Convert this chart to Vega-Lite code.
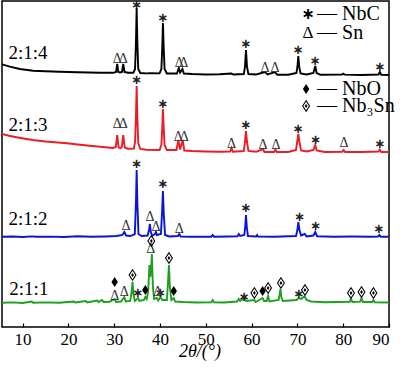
{
"$schema":"https://vega.github.io/schema/vega-lite/v6.json",
"width":387,"height":326,
"autosize":{"type":"none"},
"padding":{"left":2,"top":1,"right":11,"bottom":45},
"config":{"view":{"stroke":"#000","strokeWidth":1.5},"font":"Liberation Serif"},
"datasets":{
"curves":[
{"s":"2:1:4","x":5.5,"y":262.7},{"s":"2:1:4","x":7.2,"y":260.3},{"s":"2:1:4","x":9.4,"y":258},{"s":"2:1:4","x":12.3,"y":256.3},{"s":"2:1:4","x":15,"y":255.7},{"s":"2:1:4","x":18,"y":255.3},{"s":"2:1:4","x":22,"y":254.8},{"s":"2:1:4","x":27,"y":254.3},{"s":"2:1:4","x":29.8,"y":254.2},{"s":"2:1:4","x":30.4,"y":255},{"s":"2:1:4","x":30.66,"y":263},{"s":"2:1:4","x":30.9,"y":255},{"s":"2:1:4","x":31.3,"y":254.5},{"s":"2:1:4","x":31.7,"y":255},{"s":"2:1:4","x":31.97,"y":263},{"s":"2:1:4","x":32.25,"y":255},{"s":"2:1:4","x":33,"y":254.2},{"s":"2:1:4","x":34.2,"y":254.3},{"s":"2:1:4","x":34.55,"y":258},{"s":"2:1:4","x":34.75,"y":285},{"s":"2:1:4","x":34.9,"y":319},{"s":"2:1:4","x":35.05,"y":285},{"s":"2:1:4","x":35.25,"y":258},{"s":"2:1:4","x":35.7,"y":254},{"s":"2:1:4","x":37,"y":253.6},{"s":"2:1:4","x":38,"y":253.8},{"s":"2:1:4","x":39.9,"y":253.6},{"s":"2:1:4","x":40.3,"y":258},{"s":"2:1:4","x":40.5,"y":280},{"s":"2:1:4","x":40.64,"y":304},{"s":"2:1:4","x":40.8,"y":280},{"s":"2:1:4","x":41,"y":258},{"s":"2:1:4","x":41.5,"y":253.5},{"s":"2:1:4","x":43.7,"y":253.5},{"s":"2:1:4","x":44.1,"y":259},{"s":"2:1:4","x":44.4,"y":254.5},{"s":"2:1:4","x":44.9,"y":258},{"s":"2:1:4","x":45.2,"y":253.5},{"s":"2:1:4","x":47,"y":253},{"s":"2:1:4","x":50,"y":252.5},{"s":"2:1:4","x":53,"y":252.7},{"s":"2:1:4","x":55.6,"y":253.5},{"s":"2:1:4","x":56,"y":252.5},{"s":"2:1:4","x":58.3,"y":253},{"s":"2:1:4","x":58.55,"y":260},{"s":"2:1:4","x":58.77,"y":277},{"s":"2:1:4","x":59,"y":260},{"s":"2:1:4","x":59.3,"y":253},{"s":"2:1:4","x":61,"y":252.5},{"s":"2:1:4","x":62.9,"y":255},{"s":"2:1:4","x":63.5,"y":252.5},{"s":"2:1:4","x":65.1,"y":255},{"s":"2:1:4","x":65.6,"y":252.3},{"s":"2:1:4","x":68,"y":252.3},{"s":"2:1:4","x":69.8,"y":254},{"s":"2:1:4","x":70,"y":260},{"s":"2:1:4","x":70.2,"y":271},{"s":"2:1:4","x":70.4,"y":260},{"s":"2:1:4","x":70.7,"y":253.5},{"s":"2:1:4","x":72,"y":252.5},{"s":"2:1:4","x":73.5,"y":254},{"s":"2:1:4","x":73.9,"y":261},{"s":"2:1:4","x":74.2,"y":254},{"s":"2:1:4","x":75,"y":252.3},{"s":"2:1:4","x":79.7,"y":252.5},{"s":"2:1:4","x":80,"y":253.3},{"s":"2:1:4","x":80.3,"y":252.4},{"s":"2:1:4","x":84,"y":252},{"s":"2:1:4","x":87.7,"y":252.5},{"s":"2:1:4","x":88,"y":255},{"s":"2:1:4","x":88.3,"y":252.3},{"s":"2:1:4","x":90,"y":252},
{"s":"2:1:3","x":5.5,"y":193},{"s":"2:1:3","x":7,"y":191.3},{"s":"2:1:3","x":8.7,"y":189.7},{"s":"2:1:3","x":10.5,"y":188.3},{"s":"2:1:3","x":12.25,"y":187},{"s":"2:1:3","x":15,"y":185.5},{"s":"2:1:3","x":19.7,"y":183.7},{"s":"2:1:3","x":23,"y":182},{"s":"2:1:3","x":26.9,"y":180.3},{"s":"2:1:3","x":29.7,"y":179},{"s":"2:1:3","x":30.35,"y":180},{"s":"2:1:3","x":30.66,"y":192},{"s":"2:1:3","x":30.95,"y":180},{"s":"2:1:3","x":31.3,"y":178.8},{"s":"2:1:3","x":31.65,"y":180},{"s":"2:1:3","x":31.97,"y":192},{"s":"2:1:3","x":32.3,"y":179.5},{"s":"2:1:3","x":33,"y":178.3},{"s":"2:1:3","x":34.3,"y":178.5},{"s":"2:1:3","x":34.55,"y":185},{"s":"2:1:3","x":34.75,"y":210},{"s":"2:1:3","x":34.9,"y":241},{"s":"2:1:3","x":35.05,"y":210},{"s":"2:1:3","x":35.25,"y":184},{"s":"2:1:3","x":35.7,"y":178},{"s":"2:1:3","x":37,"y":177.3},{"s":"2:1:3","x":39.9,"y":177},{"s":"2:1:3","x":40.3,"y":182},{"s":"2:1:3","x":40.5,"y":200},{"s":"2:1:3","x":40.64,"y":218},{"s":"2:1:3","x":40.8,"y":200},{"s":"2:1:3","x":41,"y":182},{"s":"2:1:3","x":41.5,"y":177},{"s":"2:1:3","x":43.6,"y":177},{"s":"2:1:3","x":44,"y":187},{"s":"2:1:3","x":44.4,"y":177.5},{"s":"2:1:3","x":44.95,"y":187},{"s":"2:1:3","x":45.3,"y":176.5},{"s":"2:1:3","x":47,"y":176},{"s":"2:1:3","x":50,"y":175.5},{"s":"2:1:3","x":53,"y":175.3},{"s":"2:1:3","x":55.3,"y":175.5},{"s":"2:1:3","x":55.6,"y":179},{"s":"2:1:3","x":55.9,"y":175.3},{"s":"2:1:3","x":58.3,"y":176},{"s":"2:1:3","x":58.55,"y":185},{"s":"2:1:3","x":58.77,"y":196},{"s":"2:1:3","x":59,"y":185},{"s":"2:1:3","x":59.3,"y":176},{"s":"2:1:3","x":61,"y":175.2},{"s":"2:1:3","x":62.5,"y":178},{"s":"2:1:3","x":62.8,"y":175},{"s":"2:1:3","x":64.9,"y":175},{"s":"2:1:3","x":65.2,"y":177.5},{"s":"2:1:3","x":65.5,"y":175},{"s":"2:1:3","x":68,"y":175},{"s":"2:1:3","x":69.7,"y":177},{"s":"2:1:3","x":69.95,"y":185},{"s":"2:1:3","x":70.2,"y":193},{"s":"2:1:3","x":70.45,"y":185},{"s":"2:1:3","x":70.8,"y":176.5},{"s":"2:1:3","x":72,"y":175.5},{"s":"2:1:3","x":73.5,"y":177},{"s":"2:1:3","x":73.9,"y":182},{"s":"2:1:3","x":74.2,"y":176.5},{"s":"2:1:3","x":76,"y":175},{"s":"2:1:3","x":79.8,"y":175.3},{"s":"2:1:3","x":80.1,"y":177},{"s":"2:1:3","x":80.4,"y":175},{"s":"2:1:3","x":84,"y":175},{"s":"2:1:3","x":87.7,"y":175.5},{"s":"2:1:3","x":88,"y":177.5},{"s":"2:1:3","x":88.3,"y":175},{"s":"2:1:3","x":90,"y":175},
{"s":"2:1:2","x":5.5,"y":90.3},{"s":"2:1:2","x":8,"y":90.5},{"s":"2:1:2","x":10,"y":90},{"s":"2:1:2","x":12,"y":90.6},{"s":"2:1:2","x":13,"y":90.2},{"s":"2:1:2","x":16,"y":90.4},{"s":"2:1:2","x":19,"y":90},{"s":"2:1:2","x":22,"y":90.7},{"s":"2:1:2","x":25,"y":90.2},{"s":"2:1:2","x":28,"y":90.5},{"s":"2:1:2","x":30.5,"y":91},{"s":"2:1:2","x":31.8,"y":92},{"s":"2:1:2","x":32.2,"y":95},{"s":"2:1:2","x":32.6,"y":91.5},{"s":"2:1:2","x":33.5,"y":91},{"s":"2:1:2","x":34.5,"y":93},{"s":"2:1:2","x":34.75,"y":125},{"s":"2:1:2","x":34.9,"y":157},{"s":"2:1:2","x":35.05,"y":125},{"s":"2:1:2","x":35.3,"y":93},{"s":"2:1:2","x":36,"y":91},{"s":"2:1:2","x":37.3,"y":91.5},{"s":"2:1:2","x":37.6,"y":97},{"s":"2:1:2","x":37.8,"y":103},{"s":"2:1:2","x":38,"y":95},{"s":"2:1:2","x":38.3,"y":91},{"s":"2:1:2","x":38.9,"y":93},{"s":"2:1:2","x":39.1,"y":95},{"s":"2:1:2","x":39.3,"y":92},{"s":"2:1:2","x":40.2,"y":93},{"s":"2:1:2","x":40.45,"y":115},{"s":"2:1:2","x":40.64,"y":136},{"s":"2:1:2","x":40.8,"y":115},{"s":"2:1:2","x":41.1,"y":92},{"s":"2:1:2","x":42,"y":90.5},{"s":"2:1:2","x":43.9,"y":91},{"s":"2:1:2","x":44.2,"y":93},{"s":"2:1:2","x":44.5,"y":90.5},{"s":"2:1:2","x":47,"y":90.3},{"s":"2:1:2","x":51.2,"y":90.3},{"s":"2:1:2","x":51.5,"y":92},{"s":"2:1:2","x":51.8,"y":90.3},{"s":"2:1:2","x":55,"y":90.5},{"s":"2:1:2","x":56.9,"y":90.8},{"s":"2:1:2","x":57.2,"y":93},{"s":"2:1:2","x":57.5,"y":91},{"s":"2:1:2","x":58.4,"y":92},{"s":"2:1:2","x":58.6,"y":100},{"s":"2:1:2","x":58.77,"y":112},{"s":"2:1:2","x":58.95,"y":100},{"s":"2:1:2","x":59.2,"y":91},{"s":"2:1:2","x":61,"y":90.5},{"s":"2:1:2","x":61.2,"y":92},{"s":"2:1:2","x":61.4,"y":90.5},{"s":"2:1:2","x":65,"y":90.3},{"s":"2:1:2","x":69.7,"y":91},{"s":"2:1:2","x":70,"y":97},{"s":"2:1:2","x":70.2,"y":105},{"s":"2:1:2","x":70.45,"y":97},{"s":"2:1:2","x":70.8,"y":91.5},{"s":"2:1:2","x":71.6,"y":93},{"s":"2:1:2","x":72,"y":90.6},{"s":"2:1:2","x":73.5,"y":91.5},{"s":"2:1:2","x":73.9,"y":95},{"s":"2:1:2","x":74.3,"y":90.8},{"s":"2:1:2","x":78,"y":90.3},{"s":"2:1:2","x":82,"y":90.5},{"s":"2:1:2","x":86,"y":90.3},{"s":"2:1:2","x":87.6,"y":90.5},{"s":"2:1:2","x":87.9,"y":92},{"s":"2:1:2","x":88.2,"y":90.3},{"s":"2:1:2","x":90,"y":90.3},
{"s":"2:1:1","x":5.5,"y":24.3},{"s":"2:1:1","x":8,"y":24.6},{"s":"2:1:1","x":10,"y":24},{"s":"2:1:1","x":12,"y":25.5},{"s":"2:1:1","x":12.3,"y":24.3},{"s":"2:1:1","x":15,"y":24.6},{"s":"2:1:1","x":18,"y":24.2},{"s":"2:1:1","x":21.2,"y":25.5},{"s":"2:1:1","x":21.5,"y":24.5},{"s":"2:1:1","x":23.8,"y":26},{"s":"2:1:1","x":24.1,"y":24.6},{"s":"2:1:1","x":26.2,"y":26.5},{"s":"2:1:1","x":26.6,"y":25},{"s":"2:1:1","x":27.3,"y":27},{"s":"2:1:1","x":27.7,"y":25},{"s":"2:1:1","x":29,"y":25.3},{"s":"2:1:1","x":30.1,"y":28},{"s":"2:1:1","x":30.4,"y":25},{"s":"2:1:1","x":31.5,"y":25.5},{"s":"2:1:1","x":32.2,"y":30},{"s":"2:1:1","x":32.5,"y":25.5},{"s":"2:1:1","x":33.5,"y":26},{"s":"2:1:1","x":33.8,"y":35},{"s":"2:1:1","x":34,"y":45},{"s":"2:1:1","x":34.2,"y":33},{"s":"2:1:1","x":34.5,"y":26},{"s":"2:1:1","x":35.2,"y":29},{"s":"2:1:1","x":35.5,"y":26},{"s":"2:1:1","x":36.5,"y":27},{"s":"2:1:1","x":36.8,"y":30},{"s":"2:1:1","x":37.1,"y":28},{"s":"2:1:1","x":37.4,"y":35},{"s":"2:1:1","x":37.7,"y":62},{"s":"2:1:1","x":37.85,"y":50},{"s":"2:1:1","x":38.05,"y":55},{"s":"2:1:1","x":38.22,"y":73},{"s":"2:1:1","x":38.45,"y":40},{"s":"2:1:1","x":38.7,"y":28},{"s":"2:1:1","x":39.3,"y":29},{"s":"2:1:1","x":39.6,"y":26.5},{"s":"2:1:1","x":40.1,"y":30},{"s":"2:1:1","x":40.5,"y":27},{"s":"2:1:1","x":41.5,"y":27},{"s":"2:1:1","x":41.75,"y":45},{"s":"2:1:1","x":41.95,"y":62},{"s":"2:1:1","x":42.15,"y":40},{"s":"2:1:1","x":42.5,"y":27},{"s":"2:1:1","x":43,"y":29},{"s":"2:1:1","x":43.3,"y":25.5},{"s":"2:1:1","x":45,"y":25},{"s":"2:1:1","x":48,"y":24.5},{"s":"2:1:1","x":51.2,"y":24.8},{"s":"2:1:1","x":51.5,"y":27},{"s":"2:1:1","x":51.8,"y":24.6},{"s":"2:1:1","x":54,"y":24.5},{"s":"2:1:1","x":56.8,"y":25.5},{"s":"2:1:1","x":57.2,"y":28},{"s":"2:1:1","x":57.5,"y":26},{"s":"2:1:1","x":58.4,"y":29},{"s":"2:1:1","x":58.8,"y":26},{"s":"2:1:1","x":60.6,"y":27},{"s":"2:1:1","x":60.9,"y":25},{"s":"2:1:1","x":62.4,"y":29},{"s":"2:1:1","x":62.7,"y":26},{"s":"2:1:1","x":63.3,"y":26},{"s":"2:1:1","x":63.6,"y":31},{"s":"2:1:1","x":63.9,"y":25.5},{"s":"2:1:1","x":65.9,"y":27},{"s":"2:1:1","x":66.1,"y":32},{"s":"2:1:1","x":66.3,"y":38},{"s":"2:1:1","x":66.5,"y":30},{"s":"2:1:1","x":66.8,"y":26},{"s":"2:1:1","x":69.8,"y":27},{"s":"2:1:1","x":70.3,"y":29},{"s":"2:1:1","x":70.9,"y":28},{"s":"2:1:1","x":71.3,"y":30},{"s":"2:1:1","x":71.6,"y":30.5},{"s":"2:1:1","x":72,"y":27},{"s":"2:1:1","x":73,"y":25.5},{"s":"2:1:1","x":76,"y":24.8},{"s":"2:1:1","x":79,"y":25},{"s":"2:1:1","x":81.4,"y":25.3},{"s":"2:1:1","x":81.7,"y":28},{"s":"2:1:1","x":82,"y":25},{"s":"2:1:1","x":83.7,"y":25.3},{"s":"2:1:1","x":84,"y":29},{"s":"2:1:1","x":84.3,"y":25},{"s":"2:1:1","x":86.3,"y":25},{"s":"2:1:1","x":86.6,"y":27},{"s":"2:1:1","x":86.9,"y":24.8},{"s":"2:1:1","x":90,"y":24.5}
],
"labels":[
{"x":6.9,"y":274,"t":"2:1:4"},{"x":6.9,"y":202,"t":"2:1:3"},{"x":6.9,"y":108,"t":"2:1:2"},{"x":7.1,"y":38,"t":"2:1:1"}
],
"markers":[
{"m":"star","x":34.9,"y":322},{"m":"star","x":40.64,"y":309.5},{"m":"tri","x":30.66,"y":268},{"m":"tri","x":31.97,"y":268},{"m":"tri","x":44.2,"y":264},{"m":"tri","x":45.2,"y":264},{"m":"star","x":58.77,"y":283},{"m":"tri","x":62.9,"y":259},{"m":"tri","x":65.1,"y":259},{"m":"star","x":70.2,"y":277},{"m":"star","x":73.9,"y":266},{"m":"star","x":88,"y":260},
{"m":"tri","x":30.66,"y":203},{"m":"tri","x":31.97,"y":203},{"m":"star","x":34.9,"y":247},{"m":"star","x":40.64,"y":223},{"m":"tri","x":44,"y":190},{"m":"tri","x":45.3,"y":190},{"m":"tri","x":55.6,"y":183},{"m":"star","x":58.77,"y":202},{"m":"tri","x":62.5,"y":182},{"m":"tri","x":65.3,"y":182},{"m":"star","x":70.2,"y":198},{"m":"star","x":74,"y":187},{"m":"tri","x":80.2,"y":184},{"m":"star","x":88,"y":183},
{"m":"tri","x":32.6,"y":101},{"m":"star","x":34.9,"y":163},{"m":"tri","x":37.8,"y":110},{"m":"tri","x":39.1,"y":100},{"m":"star","x":40.64,"y":143},{"m":"tri","x":44.2,"y":98},{"m":"star","x":58.77,"y":119},{"m":"star","x":70.5,"y":110},{"m":"star","x":74,"y":101},{"m":"star","x":87.8,"y":98},
{"m":"dia","x":30.1,"y":45},{"m":"tri","x":30.1,"y":31},{"m":"tri","x":32.2,"y":35.5},{"m":"nb3","x":34,"y":52},{"m":"star","x":35.2,"y":34},{"m":"dia","x":36.8,"y":37},{"m":"nb3","x":38.1,"y":86},{"m":"tri","x":38,"y":78},{"m":"tri","x":39.5,"y":35},{"m":"star","x":40.1,"y":34},{"m":"nb3","x":41.95,"y":69},{"m":"dia","x":43,"y":36},{"m":"star","x":58.4,"y":30},{"m":"nb3","x":60.6,"y":34},{"m":"dia","x":62.4,"y":36},{"m":"nb3","x":63.6,"y":39},{"m":"nb3","x":66.4,"y":44},{"m":"star","x":70.35,"y":33},{"m":"nb3","x":71.65,"y":37},{"m":"nb3","x":81.7,"y":34},{"m":"nb3","x":84,"y":35},{"m":"nb3","x":86.6,"y":34},
{"m":"starL","x":72.3,"y":313},{"m":"triL","x":72.3,"y":294},{"m":"dia","x":71.9,"y":238},{"m":"nb3","x":71.9,"y":221}
],
"legend":[
{"x":74.3,"y":313,"t":"— NbC"},{"x":74.3,"y":294,"t":"— Sn"},{"x":74.3,"y":238,"t":"— NbO"},{"x":74.3,"y":221,"t":"— Nb₃Sn"}
]
},
"encoding":{
"x":{"field":"x","type":"quantitative","scale":{"domain":[5.5,90],"nice":false,"zero":false},
"axis":{"values":[10,20,30,40,50,60,70,80,90],"tickSize":-4,"tickColor":"#000","tickWidth":1.2,"domain":false,"grid":false,"labelFont":"Liberation Serif","labelFontSize":17,"labelColor":"#000","labelPadding":8,"labelBaseline":"top","title":"2θ/(°)","titleFont":"Liberation Serif","titleFontSize":18,"titleFontWeight":"normal","titleFontStyle":"italic","titleColor":"#000","titleX":197.5,"titleY":29,"titleBaseline":"alphabetic","titleAlign":"center"}},
"y":{"field":"y","type":"quantitative","scale":{"domain":[0,326],"nice":false,"zero":false},"axis":null}
},
"layer":[
{"data":{"name":"curves"},"mark":{"type":"line","strokeWidth":1.9,"clip":true},
 "encoding":{"color":{"field":"s","type":"nominal","scale":{"domain":["2:1:4","2:1:3","2:1:2","2:1:1"],"range":["#000000","#ea1c24","#0b14d6","#1f9e1f"]},"legend":null}}},
{"data":{"name":"labels"},"mark":{"type":"text","align":"left","baseline":"middle","fontSize":19,"font":"Liberation Serif","color":"#000"},"encoding":{"text":{"field":"t"}}},
{"data":{"name":"markers"},"transform":[{"filter":"datum.m=='star'"}],"mark":{"type":"text","align":"center","baseline":"middle","fontSize":13,"font":"DejaVu Sans","fontWeight":"bold","color":"#222"},"encoding":{"text":{"value":"∗"}}},
{"data":{"name":"markers"},"transform":[{"filter":"datum.m=='starL'"}],"mark":{"type":"text","align":"center","baseline":"middle","fontSize":16,"font":"DejaVu Sans","fontWeight":"bold","color":"#000"},"encoding":{"text":{"value":"∗"}}},
{"data":{"name":"markers"},"transform":[{"filter":"datum.m=='tri'"}],"mark":{"type":"text","align":"center","baseline":"middle","fontSize":14,"font":"Liberation Serif","color":"#333"},"encoding":{"text":{"value":"Δ"}}},
{"data":{"name":"markers"},"transform":[{"filter":"datum.m=='triL'"}],"mark":{"type":"text","align":"center","baseline":"middle","fontSize":17,"font":"Liberation Serif","color":"#000"},"encoding":{"text":{"value":"Δ"}}},
{"data":{"name":"markers"},"transform":[{"filter":"datum.m=='dia'"}],"mark":{"type":"point","shape":"M0,-1L0.65,0L0,1L-0.65,0Z","size":100,"filled":true,"color":"#000","opacity":1}},
{"data":{"name":"markers"},"transform":[{"filter":"datum.m=='nb3'"}],"mark":{"type":"point","shape":"M0,-1L0.65,0L0,1L-0.65,0Z","size":110,"filled":false,"color":"#000","strokeWidth":1.1,"opacity":1}},
{"data":{"name":"markers"},"transform":[{"filter":"datum.m=='nb3'"}],"mark":{"type":"point","shape":"M0,-1L0.65,0L0,1L-0.65,0Z","size":18,"filled":true,"color":"#000","opacity":1}},
{"data":{"name":"legend"},"mark":{"type":"text","align":"left","baseline":"middle","fontSize":20,"font":"Liberation Serif","color":"#000"},"encoding":{"text":{"field":"t"}}}
]
}
